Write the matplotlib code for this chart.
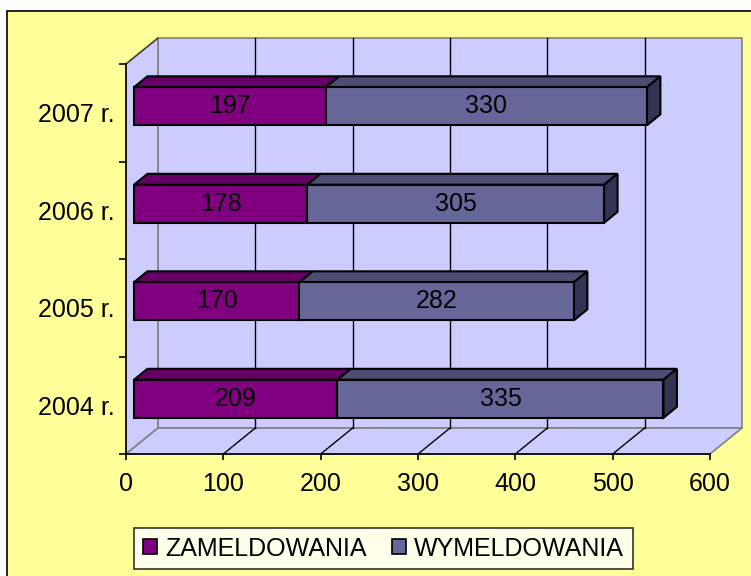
import matplotlib.pyplot as plt
from matplotlib.patches import Polygon, Rectangle, Patch

plt.rcParams['font.family'] = ['Liberation Sans', 'DejaVu Sans']

# data
years = ["2004 r.", "2005 r.", "2006 r.", "2007 r."]
zameldowania = [209, 170, 178, 197]
wymeldowania = [335, 282, 305, 330]
series_names = ["ZAMELDOWANIA", "WYMELDOWANIA"]
x_ticks = [0, 100, 200, 300, 400, 500, 600]

front_cols = ["#800080", "#666699"]
top_cols = ["#660066", "#4D4D73"]
side_cols = ["#4D004D", "#333355"]
wall_col = "#CCCCFF"

W, H = 751, 576
fig = plt.figure(figsize=(W / 100, H / 100), dpi=100)
fig.patch.set_facecolor("white")

# chart area (yellow)
fig.patches.append(Rectangle((7 / W, -0.1), 1.2, 1 - 11 / H + 0.1, transform=fig.transFigure,
                             facecolor="#FFFF99", edgecolor="black", lw=1.2, zorder=-10))

# front plane of the 3d box
ax = fig.add_axes([126 / W, (H - 454) / H, 584 / W, 390 / H])
ax.set_zorder(1)
ax.set_xlim(0, 600)
ax.set_ylim(-0.5, 3.5)
ax.patch.set_alpha(0)

# depth offset in data units (32 px right, 26 px up)
DX = 600 * 32 / 584
DY = 4 * 26 / 390
y0, y1 = -0.5, 3.5

# walls
ax.add_patch(Polygon([(DX, y0 + DY), (600 + DX, y0 + DY), (600 + DX, y1 + DY), (DX, y1 + DY)],
                     closed=True, facecolor=wall_col, edgecolor="#808080", lw=1.2, clip_on=False, zorder=1))
ax.add_patch(Polygon([(0, y0), (DX, y0 + DY), (DX, y1 + DY), (0, y1)],
                     closed=True, facecolor=wall_col, edgecolor="#808080", lw=1.2, clip_on=False, zorder=1))
ax.add_patch(Polygon([(0, y0), (600, y0), (600 + DX, y0 + DY), (DX, y0 + DY)],
                     closed=True, facecolor=wall_col, edgecolor="#808080", lw=1.2, clip_on=False, zorder=1))
ax.plot([0, DX], [y1, y1 + DY], color="#404040", lw=1, clip_on=False, zorder=2)

# gridlines on back wall and floor
for v in x_ticks[1:-1]:
    ax.plot([v + DX, v + DX], [y0 + DY, y1 + DY], color="black", lw=1, clip_on=False, zorder=2)
    ax.plot([v, v + DX], [y0, y0 + DY], color="black", lw=1, clip_on=False, zorder=2)

# bars
f0, f1 = 0.25, 0.42
bh = 0.39
for i in range(len(years)):
    left = 0
    for s, vals in enumerate([zameldowania, wymeldowania]):
        v = vals[i]
        ox, oy = f0 * DX, f0 * DY
        dx, dy = f1 * DX, f1 * DY
        xa, xb = left + ox, left + v + ox
        ya, yb = i - bh / 2 + oy, i + bh / 2 + oy
        ax.add_patch(Polygon([(xa, yb), (xb, yb), (xb + dx, yb + dy), (xa + dx, yb + dy)],
                             closed=True, facecolor=top_cols[s], edgecolor="black", lw=1.5,
                             clip_on=False, zorder=3))
        ax.add_patch(Polygon([(xb, ya), (xb + dx, ya + dy), (xb + dx, yb + dy), (xb, yb)],
                             closed=True, facecolor=side_cols[s], edgecolor="black", lw=1.5,
                             clip_on=False, zorder=3))
        ax.add_patch(Rectangle((xa, ya), v, bh, facecolor=front_cols[s], edgecolor="black",
                               lw=1.5, clip_on=False, zorder=3))
        ax.text((xa + xb) / 2, (ya + yb) / 2, str(v), ha="center", va="center",
                fontsize=18, color="black", zorder=4)
        left += v

# axes
for sp in ["top", "right"]:
    ax.spines[sp].set_visible(False)
for sp in ["left", "bottom"]:
    ax.spines[sp].set_color("black")
    ax.spines[sp].set_linewidth(1.2)
    ax.spines[sp].set_zorder(2)

ax.set_xticks(x_ticks)
ax.set_xticklabels([str(t) for t in x_ticks], fontsize=18)
ax.tick_params(axis="x", direction="out", length=4, width=1.2, pad=9)

ax.set_yticks([y0 + k for k in range(len(years) + 1)])
ax.set_yticklabels([])
ax.set_yticks(range(len(years)), minor=True)
ax.set_yticklabels(years, minor=True, fontsize=18)
ax.tick_params(axis="y", which="major", direction="out", length=5, width=1.2)
ax.tick_params(axis="y", which="minor", length=0, pad=8)

# legend
handles = [Patch(facecolor=c, edgecolor="black", lw=1.2) for c in front_cols]
leg = fig.legend(handles, series_names, loc="center", ncol=2,
                 bbox_to_anchor=((130 + 637) / 2 / W, 1 - 548.5 / H),
                 fontsize=18, frameon=True, fancybox=False, edgecolor="black",
                 handlelength=0.55, handleheight=0.55, handletextpad=0.35,
                 columnspacing=1.0, borderpad=0.35, borderaxespad=0)
leg.get_frame().set_linewidth(1.2)
leg.get_frame().set_facecolor("white")

fig.savefig("out.png", dpi=100, facecolor=fig.get_facecolor())
